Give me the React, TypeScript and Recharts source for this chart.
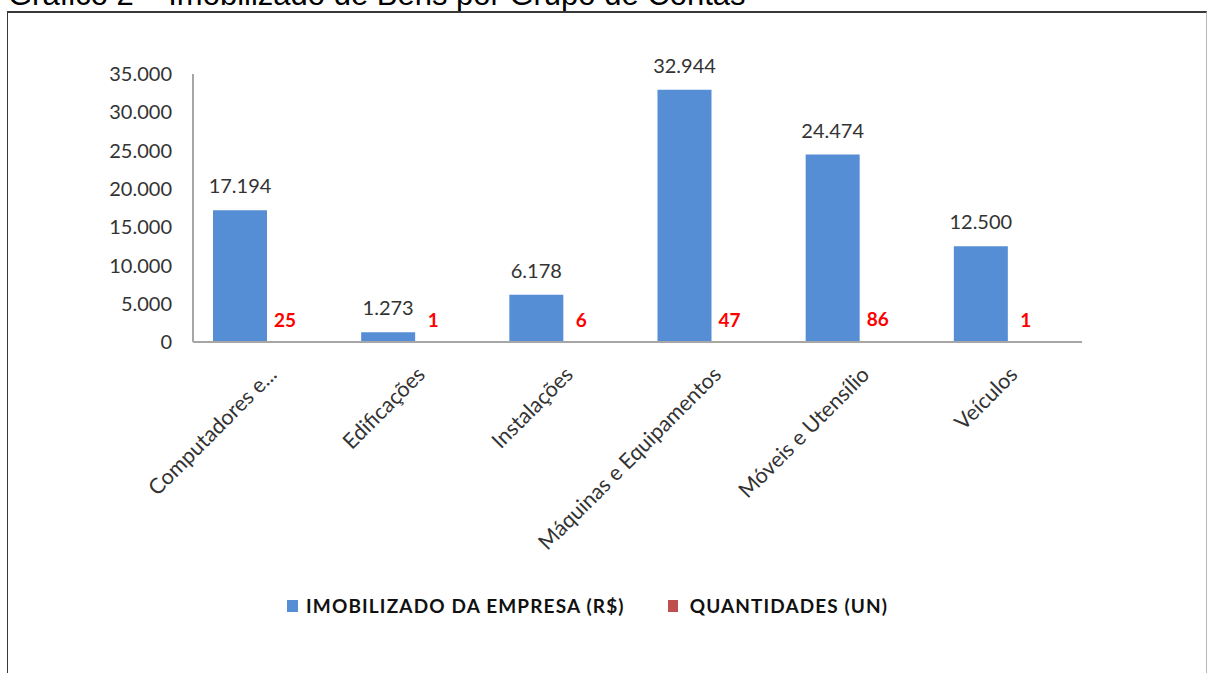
import React from 'react'
import { Bar, BarChart, LabelList, Legend, XAxis, YAxis } from 'recharts'

const CATEGORIES = [
  'Computadores e...',
  'Edificações',
  'Instalações',
  'Máquinas e Equipamentos',
  'Móveis e Utensílio',
  'Veículos',
]
const IMOBILIZADO = [17194, 1273, 6178, 32944, 24474, 12500]
const QUANTIDADES = [25, 1, 6, 47, 86, 1]
const Y_TICKS = [0, 5000, 10000, 15000, 20000, 25000, 30000, 35000]

const BLUE = '#558ED5'
const RED = '#C0504D'
const FONT = 'Lato, "Open Sans", sans-serif'

const data = CATEGORIES.map((name, i) => ({
  name,
  imobilizado: IMOBILIZADO[i],
  quantidades: QUANTIDADES[i],
}))

const fmt = (v: number) => String(Math.round(v)).replace(/\B(?=(\d{3})+(?!\d))/g, '.')

const CategoryTick = (props: any) => {
  const { x, y, payload } = props
  return (
    <g transform={`translate(${x + 11},${y})`}>
      <text
        textAnchor="end"
        transform="rotate(-45)"
        fontFamily={FONT}
        fontSize={21.5}
        fill="#333"
      >
        {payload.value}
      </text>
    </g>
  )
}

const ValueLabel = (props: any) => {
  const { x, y, width, value } = props
  return (
    <text
      x={x + width / 2}
      y={y - 17}
      textAnchor="middle"
      fontFamily={FONT}
      fontSize={20}
      fill="#333"
    >
      {fmt(value)}
    </text>
  )
}

const QtyLabel = (props: any) => {
  const { x, y, width, value } = props
  return (
    <text
      x={x + width / 2 - 9}
      y={y - 15}
      textAnchor="middle"
      fontFamily={FONT}
      fontSize={19}
      fontWeight="bold"
      fill="#FF0000"
    >
      {value}
    </text>
  )
}

const LegendContent = () => (
  <div style={{ position: 'relative', height: 0 }}>
    <div
      style={{
        position: 'absolute',
        left: 287,
        top: 0,
        display: 'flex',
        alignItems: 'center',
        fontFamily: FONT,
        fontWeight: 'bold',
        fontSize: 19,
        color: '#111',
        whiteSpace: 'nowrap',
      }}
    >
      <span style={{ width: 11, height: 12, background: BLUE, display: 'inline-block' }} />
      <span style={{ marginLeft: 8, letterSpacing: 1.15 }}>IMOBILIZADO DA EMPRESA (R$)</span>
      <span
        style={{ width: 10, height: 12, background: RED, display: 'inline-block', marginLeft: 43 }}
      />
      <span style={{ marginLeft: 12, letterSpacing: 1.1 }}>QUANTIDADES (UN)</span>
    </div>
  </div>
)

export default function App() {
  return (
    <div
      style={{
        position: 'absolute',
        left: 0,
        top: 0,
        width: 1208,
        height: 673,
        overflow: 'hidden',
        background: '#fff',
      }}
    >
      <svg
        width={1208}
        height={20}
        style={{ position: 'absolute', left: 0, top: 0 }}
      >
        <text x={8} y={5} fontFamily='"Liberation Sans", Arial, sans-serif' fontSize={31} fill="#000">
          Gráfico 2 – Imobilizado de Bens por Grupo de Contas
        </text>
      </svg>
      <div
        style={{
          position: 'absolute',
          left: 7,
          top: 11,
          width: 1198,
          height: 700,
          borderTop: '2px solid #383838',
          borderLeft: '1px solid #383838',
          borderRight: '1px solid #b8b8b8',
        }}
      />
      <div style={{ position: 'absolute', left: 0, top: 0 }}>
        <BarChart
          width={1208}
          height={673}
          data={data}
          margin={{ top: 74, right: 126, bottom: 0, left: 0 }}
          barGap={0}
          barSize={54}
        >
          <YAxis
            width={193}
            domain={[0, 35000]}
            ticks={Y_TICKS}
            tickFormatter={fmt}
            axisLine={{ stroke: '#A6A6A6', strokeWidth: 2 }}
            tickLine={false}
            tickSize={0}
            tickMargin={21}
            tick={{ fontFamily: FONT, fontSize: 20, fill: '#333' }}
          />
          <XAxis
            dataKey="name"
            interval={0}
            height={331}
            axisLine={{ stroke: '#A6A6A6', strokeWidth: 2 }}
            tickLine={false}
            tickSize={0}
            tickMargin={34}
            tick={<CategoryTick />}
          />
          <Legend
            content={<LegendContent />}
            wrapperStyle={{ top: 594, bottom: 'auto', left: 0, width: 1208 }}
          />
          <Bar dataKey="imobilizado" name="IMOBILIZADO DA EMPRESA (R$)" fill={BLUE} isAnimationActive={false}>
            <LabelList dataKey="imobilizado" content={<ValueLabel />} />
          </Bar>
          <Bar dataKey="quantidades" name="QUANTIDADES (UN)" fill={RED} isAnimationActive={false}>
            <LabelList dataKey="quantidades" content={<QtyLabel />} />
          </Bar>
        </BarChart>
      </div>
    </div>
  )
}
